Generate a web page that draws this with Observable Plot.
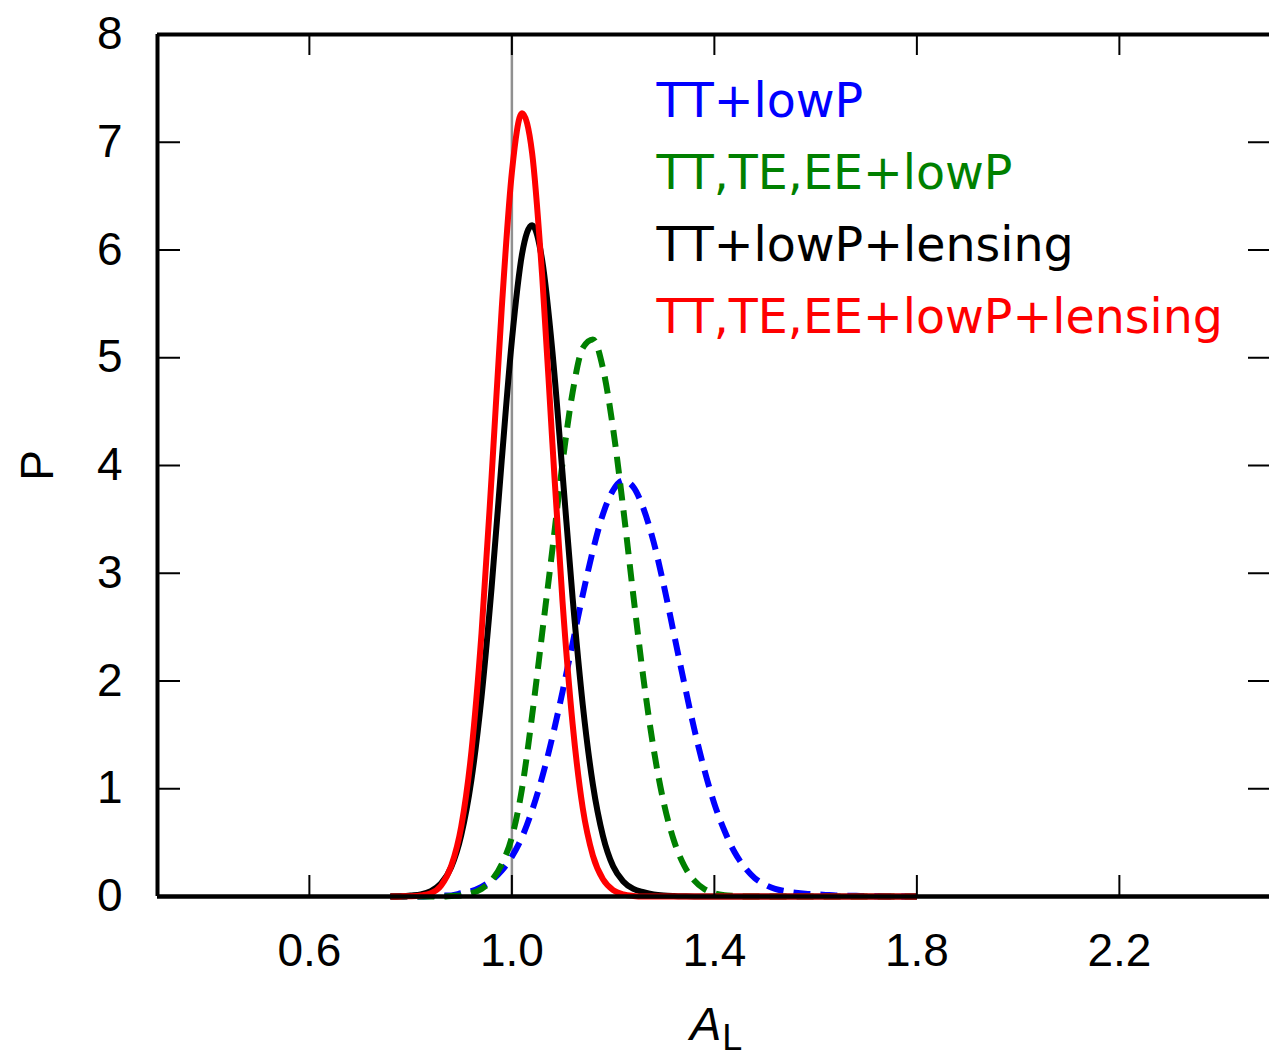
<!DOCTYPE html>
<html>
<head>
<meta charset="utf-8">
<script src="https://cdn.jsdelivr.net/npm/d3@7"></script>
<script src="https://cdn.jsdelivr.net/npm/@observablehq/plot@0.6"></script>
<style>
  html, body { margin: 0; padding: 0; background: #fff; }
  #chart svg { display: block; }
</style>
</head>
<body>
<div id="chart"></div>
<script>
// ---- data ----
const xDomain = [0.3, 2.5];
const yDomain = [0, 8];
const xTicks = [0.6, 1.0, 1.4, 1.8, 2.2];
const yTicks = [0, 1, 2, 3, 4, 5, 6, 7, 8];
const refLine = [1.0];

const seriesNames = ["TT+lowP", "TT,TE,EE+lowP", "TT+lowP+lensing", "TT,TE,EE+lowP+lensing"];
const seriesColors = ["#0000ff", "#008000", "#000000", "#ff0000"];

const AL = [0.76,0.78,0.80,0.82,0.84,0.86,0.88,0.90,0.92,0.94,0.96,0.98,1.00,1.02,1.04,1.06,1.08,1.10,1.12,1.14,1.16,1.18,1.20,1.22,1.24,1.26,1.28,1.30,1.32,1.34,1.36,1.38,1.40,1.42,1.44,1.46,1.48,1.50,1.52,1.54,1.56,1.58,1.60,1.62,1.64,1.66,1.68,1.70,1.72,1.74,1.76,1.78,1.80];

const pTTlowP = [0,0,0,0,0.005,0.01,0.01,0.03,0.05,0.09,0.15,0.24,0.37,0.55,0.80,1.11,1.48,1.90,2.35,2.80,3.21,3.55,3.77,3.86,3.80,3.60,3.29,2.89,2.44,1.99,1.56,1.18,0.86,0.61,0.41,0.27,0.17,0.11,0.07,0.05,0.035,0.025,0.02,0.015,0.01,0.008,0.006,0.004,0.002,0,0,0,0];

const pTTTEEElowP = [0,0,0,0,0,0,0.005,0.01,0.03,0.07,0.15,0.30,0.55,1.00,1.68,2.45,3.22,4.02,4.68,5.09,5.17,4.90,4.34,3.60,2.79,2.02,1.37,0.87,0.52,0.29,0.15,0.07,0.03,0.012,0.005,0,0,0,0,0,0,0,0,0,0,0,0,0,0,0,0,0,0];

const pTTlowPlensing = [0,0.002,0.01,0.02,0.05,0.12,0.27,0.57,1.08,1.85,2.87,4.05,5.16,5.96,6.23,5.90,5.06,3.93,2.77,1.78,1.04,0.56,0.28,0.14,0.07,0.04,0.02,0.01,0.005,0.002,0,0,0,0,0,0,0,0,0,0,0,0,0,0,0,0,0,0,0,0,0,0,0];

const pTTTEEElowPlensing = [0,0.001,0.003,0.01,0.03,0.10,0.28,0.65,1.34,2.44,3.90,5.46,6.72,7.27,6.90,5.75,4.21,2.74,1.60,0.82,0.38,0.16,0.06,0.02,0.005,0,0,0,0,0,0,0,0,0,0,0,0,0,0,0,0,0,0,0,0,0,0,0,0,0,0,0,0];

const seriesValues = [pTTlowP, pTTTEEElowP, pTTlowPlensing, pTTTEEElowPlensing];
const seriesDash = ["17,10", "17,10", null, null];
const seriesWidth = [6, 6, 6, 6];

// ---- layout ----
const W = 1269, H = 1057;
const mLeft = 157, mTop = 34, mBottom = 161;
const frameW = W - mLeft;          // 1112
const frameH = H - mTop - mBottom; // 862
const tickLen = 21;

const rows = seriesValues.map((vals, i) => AL.map((x, j) => ({x, P: vals[j], series: seriesNames[i]})));

const lineMarks = rows.map((data, i) => Plot.line(data, {
  x: "x", y: "P",
  stroke: seriesColors[i],
  strokeWidth: seriesWidth[i],
  strokeDasharray: seriesDash[i],
  strokeLinecap: "butt",
  curve: "monotone-x"
}));

const legendMarks = seriesNames.map((name, i) => Plot.text([name], {
  text: d => d,
  frameAnchor: "top-left",
  dx: 499,
  dy: 67 + i * 72,
  fill: seriesColors[i],
  fontSize: 47.5,
  fontFamily: "'DejaVu Sans', sans-serif",
  textAnchor: "start",
  lineAnchor: "middle"
}));

const chart = Plot.plot({
  width: W,
  height: H,
  marginLeft: mLeft,
  marginRight: 0,
  marginTop: mTop,
  marginBottom: mBottom,
  style: {background: "#fff", fontFamily: "'Liberation Sans', Arial, sans-serif", color: "#000", overflow: "hidden"},
  x: {domain: xDomain, range: [mLeft, mLeft + (xDomain[1] - xDomain[0]) * 506.25]},
  y: {domain: yDomain},
  marks: [
    Plot.ruleX(refLine, {x: d => d, stroke: "#909090", strokeWidth: 2.5}),
    ...lineMarks,
    // inward ticks on all four sides
    Plot.tickX(xTicks, {x: d => d, insetBottom: frameH - tickLen, stroke: "#000", strokeWidth: 2}),
    Plot.tickX(xTicks, {x: d => d, insetTop: frameH - tickLen, stroke: "#000", strokeWidth: 2}),
    Plot.tickY(yTicks, {y: d => d, insetRight: frameW - tickLen - 2, stroke: "#000", strokeWidth: 2}),
    Plot.tickY(yTicks, {y: d => d, insetLeft: frameW - tickLen, stroke: "#000", strokeWidth: 2}),
    // frame (left, bottom, top)
    Plot.ruleX([xDomain[0]], {x: d => d, stroke: "#000", strokeWidth: 4}),
    Plot.ruleY([yDomain[0]], {y: d => d, stroke: "#000", strokeWidth: 4.5}),
    Plot.ruleY([yDomain[1]], {y: d => d, stroke: "#000", strokeWidth: 4}),
    // axes
    Plot.axisX({ticks: xTicks, tickSize: 0, tickPadding: 37, tickFormat: d3.format(".1f"), fontSize: 46, label: null}),
    Plot.axisY({ticks: yTicks, tickSize: 0, tickPadding: 35, tickFormat: d3.format("d"), fontSize: 46, label: null}),
    Plot.text(["P"], {text: d => d, frameAnchor: "left", dx: -119, rotate: -90, fontSize: 46, textAnchor: "middle", lineAnchor: "middle"}),
    ...legendMarks
  ]
});

// x-axis label A_L with italic A and subscript L
const svg = d3.select(chart);
const xl = svg.append("text")
  .attr("x", 690)
  .attr("y", 1040)
  .attr("text-anchor", "start")
  .attr("font-family", "'Liberation Sans', Arial, sans-serif")
  .attr("fill", "#000");
xl.append("tspan").attr("font-style", "italic").attr("font-size", 47).text("A");
xl.append("tspan").attr("font-size", 36).attr("dy", 10).attr("dx", 1).text("L");

document.getElementById("chart").appendChild(chart);
</script>
</body>
</html>
